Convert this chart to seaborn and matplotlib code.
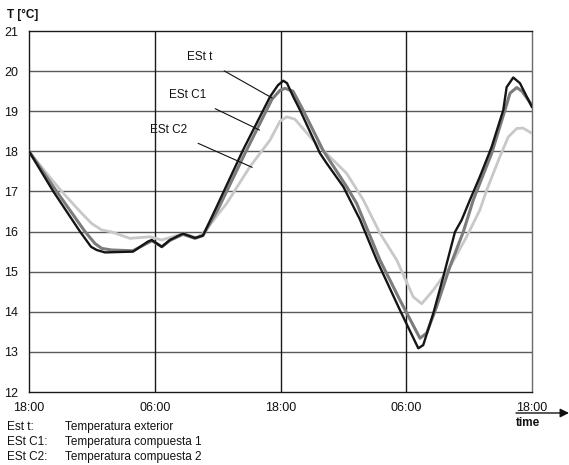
import pandas as pd
import numpy as np
import matplotlib
matplotlib.use("Agg")
import matplotlib.pyplot as plt
import seaborn as sns

sns.set_theme(style="white")
plt.rcParams['font.family'] = ['Liberation Sans', 'DejaVu Sans']


# ══════════════════════════════════════════════════════════════════
# DATA  (hours after the first 18:00, temperature in °C)
# ══════════════════════════════════════════════════════════════════

hours_t = [0, 2.32, 4.87, 5.92, 6.46, 7.25, 9.92, 11.35, 11.71, 12.66, 13.45,
           14.69, 15.84, 16.60, 17.91, 20.42, 23.00, 23.76, 24.27, 24.62,
           25.22, 25.86, 27.77, 28.41, 29.99, 30.63, 31.58, 33.18, 35.40,
           37.15, 37.62, 38.58, 39.53, 40.65, 41.29, 42.08, 43.03, 44.15,
           45.26, 45.58, 46.21, 46.85, 48.0]
temp_t = [18.0, 17.0, 16.0, 15.62, 15.54, 15.48, 15.5, 15.75, 15.79, 15.62,
          15.79, 15.95, 15.84, 15.9, 16.62, 18.03, 19.36, 19.65, 19.76, 19.7,
          19.36, 19.03, 17.95, 17.7, 17.12, 16.79, 16.3, 15.29, 14.04,
          13.09, 13.17, 13.96, 14.87, 15.99, 16.29, 16.79, 17.37, 18.11,
          19.03, 19.6, 19.84, 19.7, 19.1]

hours_c1 = [0, 2.64, 5.34, 6.3, 6.94, 7.89, 9.92, 11.35, 11.74, 12.69, 13.45,
            14.69, 15.84, 16.60, 18.03, 20.61, 23.19, 23.95, 24.43, 25.19,
            26.15, 28.05, 30.31, 31.27, 33.49, 35.40, 37.31, 37.95, 38.90,
            40.17, 41.44, 42.40, 44.15, 45.42, 45.90, 46.54, 47.04, 48.0]
temp_c1 = [18.0, 17.0, 16.0, 15.7, 15.58, 15.54, 15.52, 15.72, 15.77, 15.62,
           15.78, 15.93, 15.83, 15.9, 16.55, 17.95, 19.3, 19.52, 19.57, 19.5,
           19.03, 18.03, 17.12, 16.7, 15.29, 14.29, 13.34, 13.47, 14.13,
           15.13, 15.99, 16.79, 17.95, 19.03, 19.45, 19.59, 19.5, 19.15]

hours_c2 = [0, 1.53, 3.12, 4.87, 5.98, 6.94, 7.89, 9.64, 11.55, 12.66, 13.45,
            14.69, 16.00, 16.60, 18.86, 21.09, 23.00, 23.95, 24.59, 25.38,
            27.10, 30.31, 31.90, 33.49, 35.09, 36.67, 37.47, 38.58, 40.17,
            41.76, 43.03, 43.67, 44.94, 45.74, 46.54, 47.14, 48.0]
temp_c2 = [18.0, 17.5, 17.0, 16.5, 16.2, 16.04, 15.99, 15.83, 15.87, 15.79,
           15.85, 15.95, 15.85, 15.95, 16.7, 17.62, 18.28, 18.75, 18.86, 18.8,
           18.28, 17.45, 16.79, 15.96, 15.29, 14.37, 14.2, 14.54, 15.12,
           15.87, 16.54, 17.03, 17.87, 18.36, 18.57, 18.58, 18.45]

tick_hours = [0, 12, 24, 36, 48]
tick_labels = ['18:00', '06:00', '18:00', '06:00', '18:00']
y_ticks = list(range(12, 22))

legend_keys = ['Est t:', 'ESt C1:', 'ESt C2:']
legend_texts = ['Temperatura exterior', 'Temperatura compuesta 1',
                'Temperatura compuesta 2']

# label text position (hours, °C) and the point its leader line touches
labels = ['ESt t', 'ESt C1', 'ESt C2']
label_xy = [(16.3, 20.35), (15.1, 19.4), (13.3, 18.53)]
label_target = [(23.2, 19.33), (22.0, 18.53), (21.3, 17.6)]


# ══════════════════════════════════════════════════════════════════
# PLOT
# ══════════════════════════════════════════════════════════════════

fig = plt.figure(figsize=(5.69, 4.65), dpi=100)
ax = fig.add_axes([29 / 569, 1 - 392 / 465, 503 / 569, 361 / 465])

# grid first so the curves sit on top
for yv in y_ticks[1:-1]:
    ax.axhline(yv, color='#5a5a5a', lw=1.0, zorder=1)
for xv in tick_hours[1:-1]:
    ax.axvline(xv, color='#1a1a1a', lw=1.0, zorder=1)

series = [
    (hours_c2, temp_c2, '#c8c8c8', 2.0),
    (hours_c1, temp_c1, '#7c7c7c', 2.2),
    (hours_t, temp_t, '#151515', 1.7),
]
for hrs, tmp, col, lw in series:
    df = pd.DataFrame({'hour': hrs, 'temp': tmp})
    sns.lineplot(data=df, x='hour', y='temp', color=col, lw=lw,
                 estimator=None, sort=False, ax=ax, zorder=3)

ax.set_xlim(0, 48)
ax.set_ylim(12, 21)
ax.set_xticks(tick_hours)
ax.set_xticklabels(tick_labels, fontsize=9)
ax.set_yticks(y_ticks)
ax.set_yticklabels([str(v) for v in y_ticks], fontsize=9)
ax.tick_params(axis='both', length=0, colors='#111111')
ax.tick_params(axis='x', pad=7)
ax.tick_params(axis='y', pad=8)
ax.set_xlabel('')
ax.set_ylabel('')
for side, sp in ax.spines.items():
    sp.set_visible(True)
    sp.set_color('#1a1a1a')
    sp.set_linewidth(1.0)
ax.spines['right'].set_color('#6a6a6a')

# curve labels with leader lines
for txt, xy, tgt in zip(labels, label_xy, label_target):
    ax.annotate(txt, xy=tgt, xytext=xy, fontsize=8.5, color='#111111',
                ha='center', va='center', zorder=4,
                arrowprops=dict(arrowstyle='-', color='#111111', lw=0.8,
                                shrinkA=7, shrinkB=0))

# axis titles
fig.text(7 / 569, 1 - 15 / 465, 'T [°C]', fontsize=8.5, fontweight='bold',
         ha='left', va='center', color='#111111')
fig.text(516 / 569, 1 - 423 / 465, 'time', fontsize=8.5, fontweight='bold',
         ha='left', va='center', color='#111111')
ax.annotate('', xy=(569, 465 - 413), xytext=(516, 465 - 413),
            xycoords='figure pixels', textcoords='figure pixels',
            arrowprops=dict(arrowstyle='-|>', mutation_scale=13,
                            color='#111111', lw=1.0, shrinkA=0, shrinkB=0))

# key below the chart
for i, (k, t) in enumerate(zip(legend_keys, legend_texts)):
    y = 1 - (427 + 15 * i) / 465
    fig.text(7 / 569, y, k, fontsize=8.5, ha='left', va='center', color='#111111')
    fig.text(65 / 569, y, t, fontsize=8.5, ha='left', va='center', color='#111111')

fig.savefig('out.png', dpi=100)
